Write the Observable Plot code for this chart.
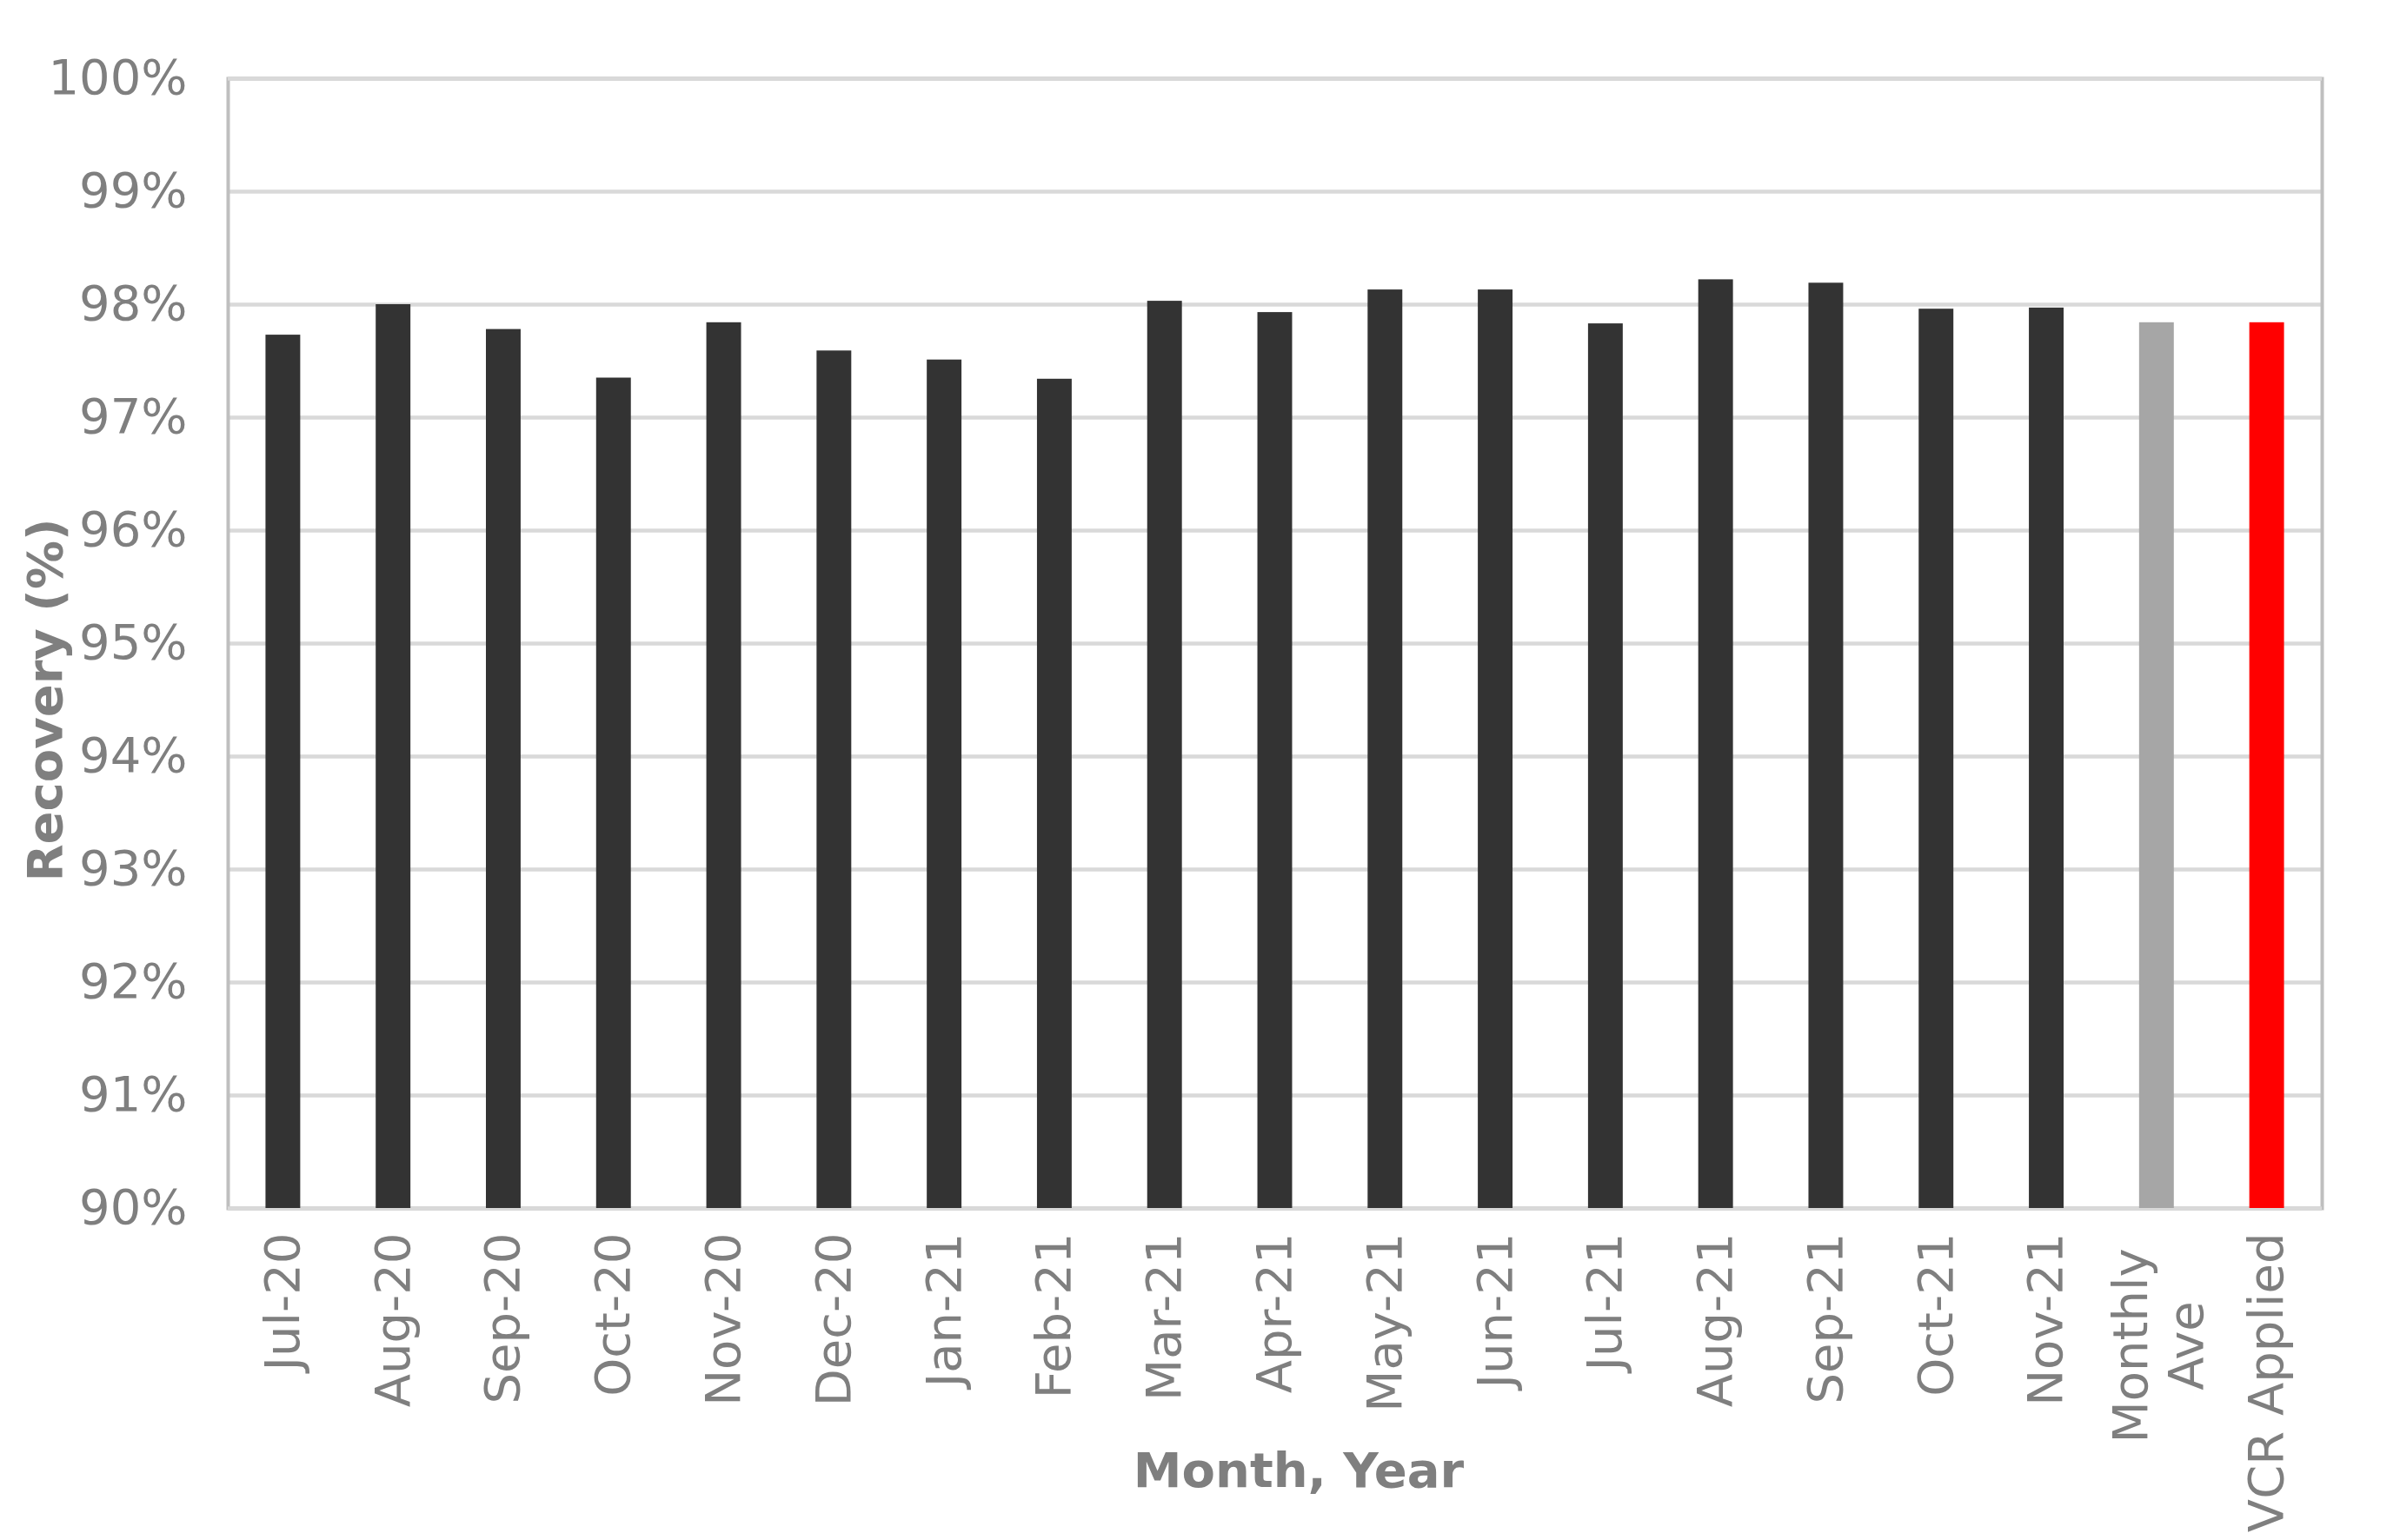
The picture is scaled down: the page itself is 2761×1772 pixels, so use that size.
<!DOCTYPE html>
<html>
<head>
<meta charset="utf-8">
<script src="https://cdn.jsdelivr.net/npm/d3@7"></script>
<script src="https://cdn.jsdelivr.net/npm/@observablehq/plot@0.6"></script>
<style>
  html, body { margin: 0; padding: 0; background: #ffffff; }
  #chart svg { display: block; }
</style>
</head>
<body>
<div id="chart"></div>
<script>
// ---- data ----
const months = ["Jul-20", "Aug-20", "Sep-20", "Oct-20", "Nov-20", "Dec-20", "Jan-21", "Feb-21",
  "Mar-21", "Apr-21", "May-21", "Jun-21", "Jul-21", "Aug-21", "Sep-21", "Oct-21", "Nov-21"];
const recovery = [97.73, 98.00, 97.78, 97.35, 97.84, 97.59, 97.51, 97.34,
  98.03, 97.93, 98.13, 98.13, 97.83, 98.22, 98.19, 97.96, 97.97];
const summaryCategories = ["Monthly Ave", "VCR Applied"];
const summaryValues = [97.84, 97.84];
const yTicks = [90, 91, 92, 93, 94, 95, 96, 97, 98, 99, 100];
const xTitle = "Month, Year";
const yTitle = "Recovery (%)";

// ---- build table ----
const categories = [...months, ...summaryCategories];
const rows = [
  ...months.map((m, i) => ({cat: m, value: recovery[i], kind: "month"})),
  {cat: summaryCategories[0], value: summaryValues[0], kind: "ave"},
  {cat: summaryCategories[1], value: summaryValues[1], kind: "vcr"}
];
const palette = {month: "#333333", ave: "#a6a6a6", vcr: "#ff0000"};
const textGrey = "#7f7f7f";
const font = 56;

const W = 2761, H = 1772;
const mL = 262, mR = 90, mT = 90, mB = 382;

const chart = Plot.plot({
  width: W,
  height: H,
  marginLeft: mL,
  marginRight: mR,
  marginTop: mT,
  marginBottom: mB,
  style: {fontFamily: "DejaVu Sans, sans-serif", background: "#ffffff", color: textGrey, overflow: "visible"},
  x: {domain: categories, paddingInner: 0.685, paddingOuter: 0.3425, round: false, axis: null},
  y: {domain: [90, 100], axis: null},
  marks: [
    Plot.ruleY(yTicks, {y: d => d, stroke: "#d9d9d9", strokeWidth: 4.5}),
    Plot.frame({stroke: "#bfbfbf", strokeWidth: 4}),
    Plot.ruleY([90, 100], {y: d => d, stroke: "#d9d9d9", strokeWidth: 4.5}),
    Plot.barY(rows, {x: "cat", y1: 90, y2: "value", fill: d => palette[d.kind]}),
    // y tick labels
    Plot.text(yTicks, {y: d => d, frameAnchor: "left", dx: -47, textAnchor: "end",
      text: d => d + "%", fontSize: font, fill: textGrey}),
    // x tick labels (months)
    Plot.text(months, {x: d => d, frameAnchor: "bottom", dy: 28, rotate: -90,
      textAnchor: "end", lineAnchor: "middle", text: d => d, fontSize: font, fill: textGrey}),
    // Monthly Ave (wrapped, centered)
    Plot.text([summaryCategories[0]], {x: d => d, frameAnchor: "bottom", dy: 158, rotate: -90,
      textAnchor: "middle", lineAnchor: "middle", lineHeight: 1.15,
      text: d => d.replace(" ", "\n"), fontSize: font, fill: textGrey}),
    // VCR Applied
    Plot.text([summaryCategories[1]], {x: d => d, frameAnchor: "bottom", dy: 28, rotate: -90,
      textAnchor: "end", lineAnchor: "middle", text: d => d, fontSize: font, fill: textGrey}),
    // axis titles
    Plot.text([xTitle], {frameAnchor: "bottom", dx: 27, dy: 303, text: d => d, textAnchor: "middle",
      fontSize: font, fontWeight: "bold", fill: textGrey, lineAnchor: "middle"}),
    Plot.text([yTitle], {frameAnchor: "left", dx: -209, dy: 65, rotate: -90, text: d => d, textAnchor: "middle",
      fontSize: font, fontWeight: "bold", fill: textGrey, lineAnchor: "middle"})
  ]
});
document.getElementById("chart").appendChild(chart);
</script>
</body>
</html>
